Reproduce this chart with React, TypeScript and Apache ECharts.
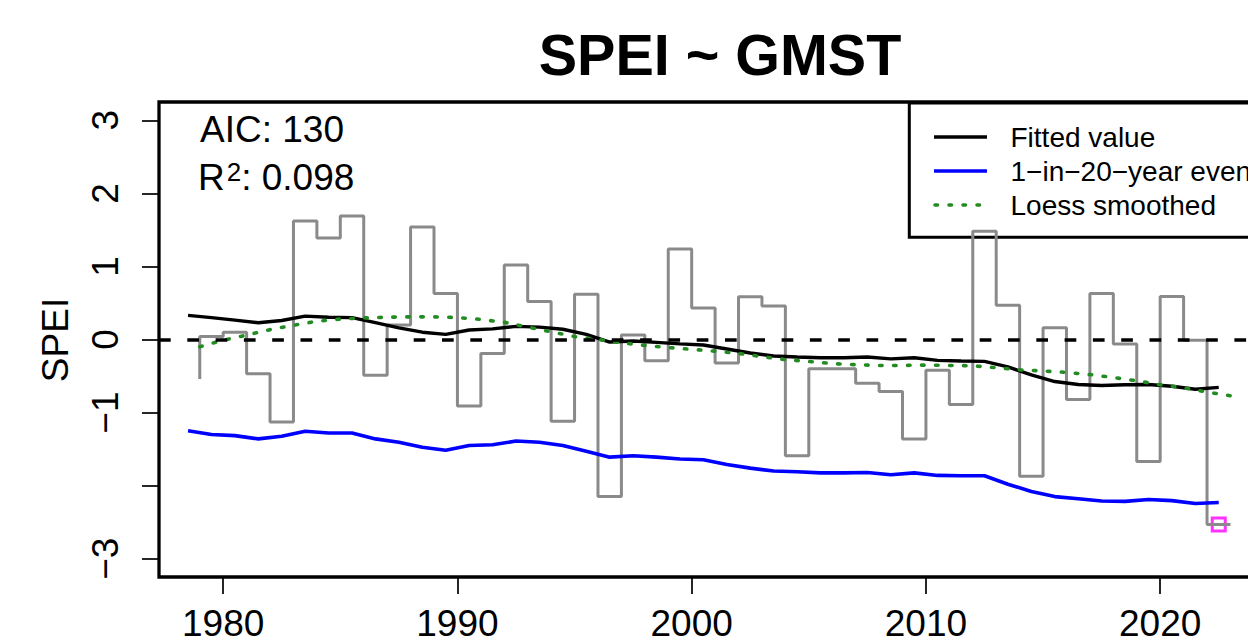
import React, { useEffect, useRef } from 'react';
import * as echarts from 'echarts';

// Years of the SPEI series (step positions)
const years = [
  1979, 1980, 1981, 1982, 1983, 1984, 1985, 1986, 1987, 1988, 1989,
  1990, 1991, 1992, 1993, 1994, 1995, 1996, 1997, 1998, 1999,
  2000, 2001, 2002, 2003, 2004, 2005, 2006, 2007, 2008, 2009,
  2010, 2011, 2012, 2013, 2014, 2015, 2016, 2017, 2018, 2019,
  2020, 2021, 2022, 2023,
];

// Observed SPEI (step line)
const spei = [
  -0.54, 0.04, 0.10, -0.47, -1.13, 1.62, 1.39, 1.69, -0.49, 0.20, 1.54,
  0.63, -0.91, -0.19, 1.02, 0.52, -1.12, 0.62, -2.15, 0.06, -0.29,
  1.24, 0.43, -0.32, 0.585, 0.46, -1.59, -0.40, -0.40, -0.60, -0.71,
  -1.36, -0.42, -0.89, 1.48, 0.47, -1.87, 0.16, -0.82, 0.63, -0.06,
  -1.67, 0.59, -0.01, -2.53,
];

// Fitted value (plotted half a year earlier than the step position)
const fitted = [
  0.33, 0.30, 0.265, 0.23, 0.26, 0.32, 0.305, 0.30, 0.23, 0.16, 0.10,
  0.07, 0.13, 0.145, 0.18, 0.17, 0.14, 0.07, -0.035, -0.02, -0.04,
  -0.06, -0.075, -0.13, -0.185, -0.225, -0.24, -0.25, -0.25, -0.24, -0.265,
  -0.25, -0.285, -0.295, -0.30, -0.375, -0.485, -0.575, -0.615, -0.63, -0.62,
  -0.615, -0.64, -0.68, -0.655,
];

// 1-in-20-year event level
const event20 = [
  -1.25, -1.30, -1.315, -1.36, -1.325, -1.255, -1.28, -1.28, -1.36, -1.405, -1.475,
  -1.515, -1.45, -1.44, -1.39, -1.405, -1.45, -1.53, -1.61, -1.59, -1.61,
  -1.635, -1.645, -1.71, -1.76, -1.80, -1.81, -1.825, -1.825, -1.82, -1.85,
  -1.825, -1.86, -1.865, -1.865, -1.98, -2.08, -2.15, -2.18, -2.21, -2.215,
  -2.19, -2.205, -2.245, -2.23,
];

// Loess smoothed
const loess = [
  -0.10, -0.01, 0.06, 0.135, 0.195, 0.25, 0.28, 0.295, 0.305, 0.31, 0.31,
  0.30, 0.275, 0.235, 0.17, 0.105, 0.04, 0.0, -0.045, -0.08, -0.11,
  -0.135, -0.16, -0.19, -0.235, -0.275, -0.30, -0.33, -0.345, -0.355, -0.355,
  -0.35, -0.355, -0.36, -0.385, -0.415, -0.43, -0.45, -0.48, -0.52, -0.565,
  -0.62, -0.66, -0.72, -0.77,
];

const xTicks = [1980, 1990, 2000, 2010, 2020];
const yTicks = [-3, -2, -1, 0, 1, 2, 3];
const yLabels = [-3, -1, 0, 1, 2, 3];

const titleText = 'SPEI ~ GMST';
const yName = 'SPEI';
const aicText = 'AIC: 130';
const r2Value = ': 0.098';
const legendLabels = ['Fitted value', '1\u2212in\u221220\u2212year event', 'Loess smoothed'];

const FONT = '"Liberation Sans", Arial, Helvetica, sans-serif';

export default function App() {
  const ref = useRef<HTMLDivElement>(null);

  useEffect(() => {
    const chart = echarts.init(ref.current as HTMLDivElement, null, { renderer: 'svg' });
    const fmt = (v: number) => (v < 0 ? '\u2212' + Math.abs(v) : String(v));

    const stepData = years.map((y, i) => [y, spei[i]]);
    const fitData = years.map((y, i) => [y - 0.5, fitted[i]]);
    const evData = years.map((y, i) => [y - 0.5, event20[i]]);
    const loessData = years.map((y, i) => [y, loess[i]]);
    const last = years.length - 1;
    const highlight = [[years[last] - 0.5, spei[last]]];

    chart.setOption({
      animation: false,
      grid: {
        left: 159,
        top: 102,
        width: 1100.5,
        height: 475,
        show: true,
        borderColor: '#000',
        borderWidth: 3.3,
        backgroundColor: 'transparent',
        containLabel: false,
        outerBoundsMode: 'none',
      },
      xAxis: {
        type: 'value',
        min: 1977.26,
        max: 2024.24,
        axisLine: { show: false, onZero: false },
        splitLine: { show: false },
        axisTick: {
          show: true,
          customValues: xTicks,
          length: 17,
          lineStyle: { color: '#000', width: 1.7 },
        },
        axisLabel: {
          customValues: xTicks,
          margin: 28,
          fontSize: 37,
          fontFamily: FONT,
          color: '#000',
          formatter: (v: number) => String(v),
        },
      },
      yAxis: {
        type: 'value',
        min: -3.25,
        max: 3.25,
        axisLine: { show: false, onZero: false },
        splitLine: { show: false },
        axisTick: {
          show: true,
          customValues: yTicks,
          length: 17,
          lineStyle: { color: '#000', width: 1.7 },
        },
        axisLabel: {
          customValues: yLabels,
          rotate: 90,
          margin: 35,
          fontSize: 37,
          fontFamily: FONT,
          color: '#000',
          formatter: (v: number) => fmt(v),
        },
      },
      series: [
        {
          name: 'SPEI',
          type: 'line',
          step: 'start',
          data: stepData,
          symbol: 'none',
          silent: true,
          lineStyle: { color: '#8a8a8a', width: 3 },
          markLine: {
            silent: true,
            symbol: 'none',
            label: { show: false },
            lineStyle: { color: '#000', width: 3.7, type: [11.7, 16.6] },
            data: [{ yAxis: 0 }],
          },
        },
        {
          name: legendLabels[0],
          type: 'line',
          data: fitData,
          symbol: 'none',
          silent: true,
          lineStyle: { color: '#000', width: 3.4 },
        },
        {
          name: legendLabels[1],
          type: 'line',
          data: evData,
          symbol: 'none',
          silent: true,
          lineStyle: { color: '#0000ff', width: 3.6 },
        },
        {
          name: legendLabels[2],
          type: 'line',
          data: loessData,
          symbol: 'none',
          silent: true,
          lineStyle: { color: '#228B22', width: 3.6, type: [2.5, 11.5], cap: 'round' },
        },
        {
          name: 'Latest',
          type: 'scatter',
          data: highlight,
          symbol: 'rect',
          symbolSize: 13,
          silent: true,
          itemStyle: { color: 'rgba(0,0,0,0)', borderColor: '#ff00ff', borderWidth: 3 },
        },
      ],
      graphic: [
        {
          type: 'text',
          x: 720,
          y: 55,
          style: {
            text: titleText,
            font: `bold 57.5px ${FONT}`,
            fill: '#000',
            align: 'center',
            verticalAlign: 'middle',
          },
        },
        {
          type: 'text',
          x: 55,
          y: 340,
          rotation: Math.PI / 2,
          style: {
            text: yName,
            font: `37px ${FONT}`,
            fill: '#000',
            align: 'center',
            verticalAlign: 'middle',
          },
        },
        {
          type: 'text',
          x: 200,
          y: 129,
          style: { text: aicText, font: `37px ${FONT}`, fill: '#000', align: 'left', verticalAlign: 'middle' },
        },
        {
          type: 'text',
          x: 198,
          y: 177.5,
          style: {
            text: `{b|R}{s|2}{b|${r2Value}}`,
            fill: '#000',
            align: 'left',
            verticalAlign: 'middle',
            rich: {
              b: { fontSize: 37, fontFamily: FONT, fill: '#000', lineHeight: 37 },
              s: {
                fontSize: 26,
                fontFamily: FONT,
                fill: '#000',
                lineHeight: 20,
                verticalAlign: 'top',
                padding: [0, 0, 0, 2],
              },
            },
          },
        },
        {
          type: 'rect',
          shape: { x: 909.3, y: 103, width: 500, height: 134.3 },
          style: { fill: 'none', stroke: '#000', lineWidth: 3 },
        },
        {
          type: 'line',
          shape: { x1: 934, y1: 137, x2: 987, y2: 137 },
          style: { stroke: '#000', lineWidth: 3.4 },
        },
        {
          type: 'line',
          shape: { x1: 934, y1: 171, x2: 987, y2: 171 },
          style: { stroke: '#0000ff', lineWidth: 3.6 },
        },
        {
          type: 'line',
          shape: { x1: 935, y1: 205, x2: 987, y2: 205 },
          style: { stroke: '#228B22', lineWidth: 3.6, lineDash: [2.5, 11.5], lineCap: 'round' },
        },
        {
          type: 'text',
          x: 1010.5,
          y: 137,
          style: { text: legendLabels[0], font: `28px ${FONT}`, fill: '#000', align: 'left', verticalAlign: 'middle' },
        },
        {
          type: 'text',
          x: 1010.5,
          y: 171,
          style: { text: legendLabels[1], font: `28px ${FONT}`, fill: '#000', align: 'left', verticalAlign: 'middle' },
        },
        {
          type: 'text',
          x: 1010.5,
          y: 205,
          style: { text: legendLabels[2], font: `28px ${FONT}`, fill: '#000', align: 'left', verticalAlign: 'middle' },
        },
      ],
    });

    return () => chart.dispose();
  }, []);

  return (
    <div
      ref={ref}
      style={{ position: 'absolute', left: 0, top: 0, width: 1248, height: 637 }}
    />
  );
}
